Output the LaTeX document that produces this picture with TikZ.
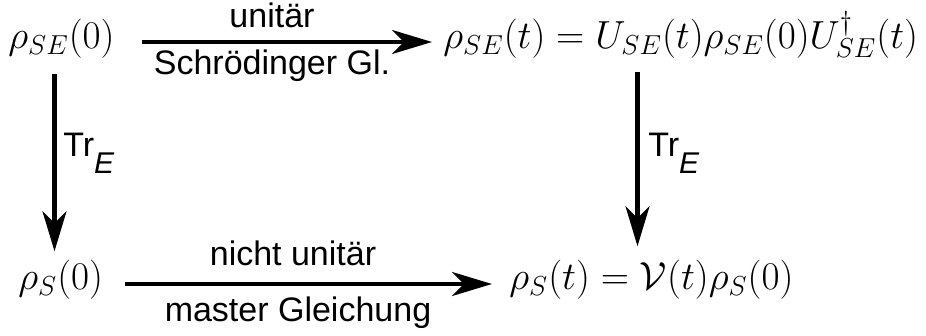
\RequirePackage{fix-cm}
\documentclass[tikz,border=0pt]{standalone}
\usepackage{fontspec}
\setsansfont{Liberation Sans}
\usetikzlibrary{arrows.meta, positioning}
\DeclareMathSizes{19.6}{19.6}{13.7}{9.8}
\newcommand{\trE}{Tr\raisebox{-0.5em}{\fontsize{15}{18}\itshape E}}
\tikzset{
  state/.style={inner sep=0pt, anchor=base west,
                font=\fontsize{19.6}{24}\selectfont},
  lbl/.style={inner sep=0pt, anchor=base,
              font=\sffamily\fontsize{17}{20}\selectfont},
  flow/.style={line width=2.25pt,
               -{Stealth[length=20pt, width=12pt, inset=6pt]}},
}

\begin{document}
\begin{tikzpicture}[x=5pt, y=5pt]
  \useasboundingbox (0,0) rectangle (92.6,33.6);
  %--- states ------------------------------------------------------------------
  \node[state] (se0) at (0.8,28.7) {$\rho_{SE}(0)$};
  \node[state] (set) at (44.3,28.7)
    {$\rho_{SE}(t) = U_{SE}(t)\rho_{SE}(0)U^{\dagger}_{SE}(t)$};
  \node[state] (s0) at (1.8,4.6) {$\rho_S(0)$};
  \node[state] (st) at (50.9,4.6) {$\rho_S(t) = \mathcal{V}(t)\rho_S(0)$};
  % columns of the partial traces
  \coordinate (lcol) at (5.45,0);
  \coordinate (rcol) at (63.75,0);
  %--- arrows ------------------------------------------------------------------
  \draw[flow, shorten <=13.5pt, shorten >=5.5pt]
    ([yshift=3.5pt]se0.base east) -- ([yshift=3.5pt]set.base west);
  \draw[flow, shorten <=11pt, shorten >=8.5pt]
    ([yshift=3pt]s0.base east) -- ([yshift=3pt]st.base west);
  \draw[flow, shorten <=7.5pt, shorten >=4.5pt]
    (se0.south -| lcol) -- (s0.north -| lcol);
  \draw[flow, shorten <=6.5pt, shorten >=7pt]
    (set.south -| rcol) -- (st.north -| rcol);
  %--- labels ------------------------------------------------------------------
  \node[lbl] (unit) at (27.2,30.8) {unitär};
  \node[lbl] (schr) at (27.2,26.1) {Schrödinger Gl.};
  \node[lbl] (nunit) at (29.3,7.0) {nicht unitär};
  \node[lbl] (mast) at (29.8,1.4) {master Gleichung};
  \node[lbl, anchor=base west] (trl) at (6.3,17.9) {\trE};
  \node[lbl, anchor=base west] (trr) at (64.8,17.9) {\trE};
\end{tikzpicture}
\end{document}
